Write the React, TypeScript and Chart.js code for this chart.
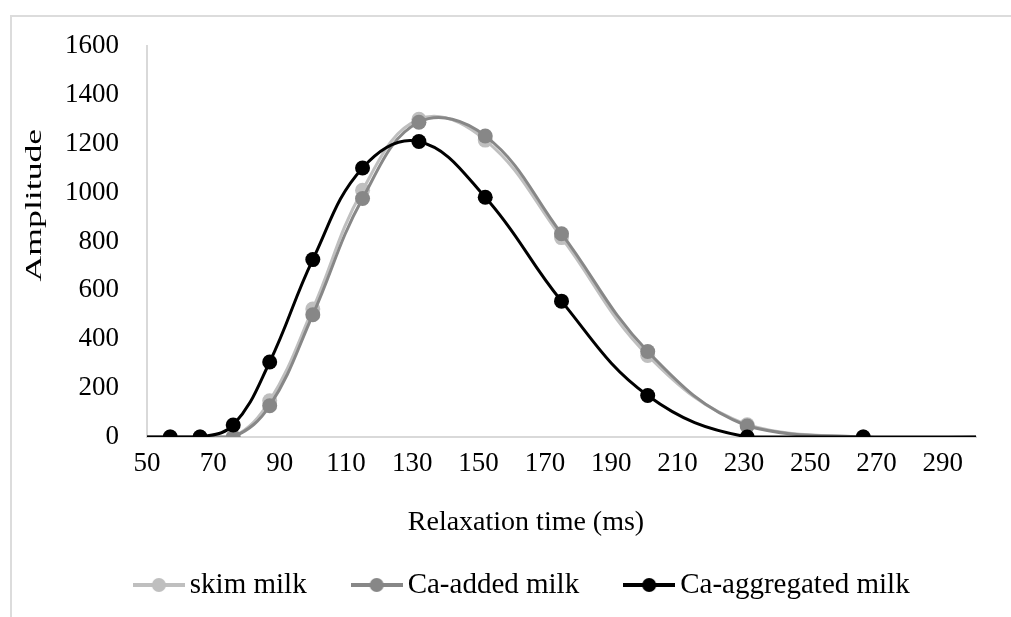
import React, { useEffect, useRef } from 'react';
import { Chart, registerables } from 'chart.js';

Chart.register(...registerables);

// Relaxation times (ms). First and last entries are boundary points (no marker) so the
// flat baseline runs to the axis edges, as in the reference.
const relaxationTimes = [49.6, 57, 66, 76, 87, 100, 115, 132, 152, 175, 201, 231, 266, 306];
const markerShown = [false, true, true, true, true, true, true, true, true, true, true, true, true, false];

const skimMilk = [0, 0, 0, 0, 148, 524, 1010, 1300, 1215, 816, 334, 50, 0, 0];
const caAddedMilk = [0, 0, 0, 0, 128, 500, 976, 1288, 1232, 832, 350, 45, 0, 0];
const caAggregatedMilk = [0, 0, 0, 49, 307, 726, 1101, 1209, 981, 556, 170, 0, 0, 0];

const seriesNames = ['skim milk', 'Ca-added milk', 'Ca-aggregated milk'];
const seriesValues = [skimMilk, caAddedMilk, caAggregatedMilk];
const seriesColors = ['#bfbfbf', '#878787', '#000000'];

const xTickValues = [50, 70, 90, 110, 130, 150, 170, 190, 210, 230, 250, 270, 290];
const xTitle = 'Relaxation time (ms)';
const yTitle = 'Amplitude';

const FONT = '"Liberation Serif", "Times New Roman", serif';

function makeLegendIcon(color: string) {
  const c = document.createElement('canvas');
  c.width = 52;
  c.height = 16;
  const g = c.getContext('2d')!;
  g.strokeStyle = color;
  g.lineWidth = 4;
  g.beginPath();
  g.moveTo(0, 8);
  g.lineTo(52, 8);
  g.stroke();
  g.fillStyle = color;
  g.beginPath();
  g.arc(26, 8, 7, 0, Math.PI * 2);
  g.fill();
  return c;
}

const yTitlePlugin = {
  id: 'yTitleStretched',
  afterLayout(chart: any) {
    // let the y tick labels use the space to the left of the padded layout area
    if (chart.scales.y) chart.scales.y.left = 0;
  },
  afterDraw(chart: any) {
    const { ctx, chartArea } = chart;
    ctx.save();
    ctx.translate(chartArea.left - 112, chartArea.top + chartArea.height * 0.407);
    ctx.rotate(-Math.PI / 2);
    ctx.scale(1.55, 1);
    ctx.font = `23px ${FONT}`;
    ctx.fillStyle = '#000';
    ctx.textAlign = 'center';
    ctx.textBaseline = 'middle';
    ctx.fillText(yTitle, 0, 0);
    ctx.restore();
  },
};

export default function App() {
  const canvasRef = useRef<HTMLCanvasElement | null>(null);

  useEffect(() => {
    const canvas = canvasRef.current;
    if (!canvas) return;
    const icons = seriesColors.map(makeLegendIcon);
    const tickFont = { family: FONT, size: 27 };

    const chart = new Chart(canvas, {
      type: 'line',
      data: {
        datasets: seriesNames.map((name, i) => ({
          label: name,
          data: relaxationTimes.map((t, j) => ({ x: t, y: seriesValues[i][j] })),
          borderColor: seriesColors[i],
          backgroundColor: seriesColors[i],
          pointBackgroundColor: seriesColors[i],
          pointBorderColor: seriesColors[i],
          pointBorderWidth: 0,
          pointRadius: markerShown.map((m) => (m ? 7.5 : 0)),
          borderWidth: 3,
          tension: 0.4,
          fill: false,
          order: 2 - i,
        })),
      },
      options: {
        animation: false,
        responsive: false,
        events: [],
        layout: { padding: { left: 66, right: 64, top: 31, bottom: 7.5 } },
        scales: {
          x: {
            type: 'linear',
            min: 50,
            max: 300,
            afterBuildTicks: (s: any) => {
              s.ticks = xTickValues.map((v) => ({ value: v }));
            },
            grid: { display: false, drawTicks: false },
            border: { display: true, color: '#d9d9d9', width: 2 },
            ticks: { padding: 11, font: tickFont, color: '#000', maxRotation: 0, autoSkip: false },
          },
          y: {
            type: 'linear',
            min: 0,
            max: 1600,
            afterFit: (s: any) => {
              s.width = 71;
              s.paddingTop = 16;
              s.paddingBottom = 16;
            },
            grid: { display: false, drawTicks: false },
            border: { display: true, color: '#d9d9d9', width: 2 },
            ticks: {
              stepSize: 200,
              padding: 28,
              font: tickFont,
              color: '#000',
              callback: (v: any) => String(v),
            },
          },
        },
        plugins: {
          tooltip: { enabled: false },
          title: {
            display: true,
            text: xTitle,
            position: 'bottom',
            weight: 500,
            color: '#000',
            font: { family: FONT, size: 28, weight: 'normal', lineHeight: 1 },
            padding: { top: 17.6, bottom: -20 },
          },
          legend: {
            display: true,
            position: 'bottom',
            labels: {
              usePointStyle: true,
              pointStyleWidth: 33,
              padding: 53.5,
              color: '#000',
              font: { family: FONT, size: 29 },
              generateLabels: (c: any) =>
                c.data.datasets.map((ds: any, i: number) => ({
                  text: ds.label,
                  pointStyle: icons[i],
                  datasetIndex: i,
                  hidden: false,
                  lineWidth: 0,
                  fillStyle: ds.borderColor,
                  strokeStyle: ds.borderColor,
                  fontColor: '#000',
                })),
            },
          },
        },
      } as any,
      plugins: [yTitlePlugin],
    });
    return () => chart.destroy();
  }, []);

  return (
    <div style={{ position: 'absolute', left: 0, top: 0, width: 1011, height: 617, overflow: 'hidden', background: '#fff' }}>
      <div
        style={{
          position: 'absolute',
          left: 10,
          top: 15,
          width: 1100,
          height: 700,
          borderLeft: '2px solid #dcdcdc',
          borderTop: '2px solid #dcdcdc',
          boxSizing: 'border-box',
        }}
      />
      <canvas ref={canvasRef} width={1030} height={602} style={{ position: 'absolute', left: 10, top: 15 }} />
    </div>
  );
}
